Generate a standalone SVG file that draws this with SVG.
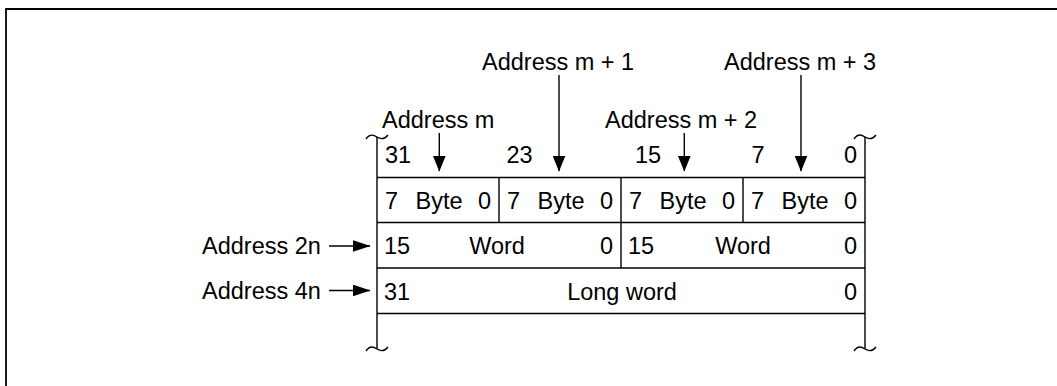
<svg xmlns="http://www.w3.org/2000/svg" width="1057" height="386" viewBox="0 0 1057 386">
  <style>
    text { font-family: "Liberation Sans", Arial, sans-serif; font-size: 23.5px; fill: #000; }
    .mid { text-anchor: middle; }
    .end { text-anchor: end; }
    .ln { stroke: #000; stroke-width: 1.4; fill: none; }
    .frame { stroke: #000; stroke-width: 1.8; fill: none; }
    .arrv { stroke: #000; stroke-width: 1.4; fill: none; marker-end: url(#ahv); }
    .arrh { stroke: #000; stroke-width: 1.4; fill: none; marker-end: url(#ahh); }
  </style>
  <defs>
    <marker id="ahv" markerUnits="userSpaceOnUse" viewBox="0 0 16 13" markerWidth="16" markerHeight="13" refX="15.5" refY="6.5" orient="auto">
      <path d="M0,0 L16,6.5 L0,13 Z" fill="#000"/>
    </marker>
    <marker id="ahh" markerUnits="userSpaceOnUse" viewBox="0 0 18 12" markerWidth="18" markerHeight="12" refX="17.5" refY="6" orient="auto">
      <path d="M0,0 L18,6 L0,12 Z" fill="#000"/>
    </marker>
  </defs>

  <g id="frame">
    <path class="frame" d="M6,386 V9 H1057"/>
  </g>

  <g id="memory-block">
    <path class="ln" d="M377,137 V349 M865,137 V349"/>
    <path class="ln" d="M366,139 C370,133 374,135 377,137 C380,139 384,140 388,135"/>
    <path class="ln" d="M854,139 C858,133 862,135 865,137 C868,139 872,140 876,135"/>
    <path class="ln" d="M366,351 C370,345 374,347 377,349 C380,351 384,352 388,347"/>
    <path class="ln" d="M854,351 C858,345 862,347 865,349 C868,351 872,352 876,347"/>
    <path class="ln" d="M377,177.5 H865 M377,222.5 H865 M377,268 H865 M377,313.5 H865"/>
  </g>

  <g id="bit-numbers">
    <text x="385" y="163">31</text>
    <text x="506.5" y="163">23</text>
    <text x="635" y="163">15</text>
    <text x="751.5" y="163">7</text>
    <text x="857" y="163" class="end">0</text>
  </g>

  <g id="byte-row">
    <path class="ln" d="M499,177.5 V222.5 M621,177.5 V222.5 M743,177.5 V222.5"/>
    <text x="385" y="209">7</text><text x="439" y="209" class="mid">Byte</text><text x="491" y="209" class="end">0</text>
    <text x="507" y="209">7</text><text x="561" y="209" class="mid">Byte</text><text x="613" y="209" class="end">0</text>
    <text x="629" y="209">7</text><text x="683" y="209" class="mid">Byte</text><text x="735" y="209" class="end">0</text>
    <text x="751" y="209">7</text><text x="805" y="209" class="mid">Byte</text><text x="857" y="209" class="end">0</text>
  </g>

  <g id="word-row">
    <path class="ln" d="M621,222.5 V268"/>
    <text x="384" y="254">15</text><text x="497" y="254" class="mid">Word</text><text x="613" y="254" class="end">0</text>
    <text x="628" y="254">15</text><text x="743" y="254" class="mid">Word</text><text x="857" y="254" class="end">0</text>
  </g>

  <g id="longword-row">
    <text x="384" y="299.5">31</text><text x="622" y="299.5" class="mid">Long word</text><text x="857" y="299.5" class="end">0</text>
  </g>

  <g id="address-labels">
    <text x="382" y="128">Address m</text>
    <text x="482" y="70">Address m + 1</text>
    <text x="605" y="128">Address m + 2</text>
    <text x="724" y="70">Address m + 3</text>
    <text x="202" y="253.5">Address 2n</text>
    <text x="202" y="298.5">Address 4n</text>
  </g>

  <g id="connectors">
    <line class="arrv" x1="439.3" y1="133" x2="439.3" y2="171"/>
    <line class="arrv" x1="559" y1="75" x2="559" y2="171"/>
    <line class="arrv" x1="684.3" y1="133" x2="684.3" y2="171"/>
    <line class="arrv" x1="801" y1="75" x2="801" y2="171"/>
    <line class="arrh" x1="329" y1="246" x2="370" y2="246"/>
    <line class="arrh" x1="329" y1="290.5" x2="370" y2="290.5"/>
  </g>
</svg>
